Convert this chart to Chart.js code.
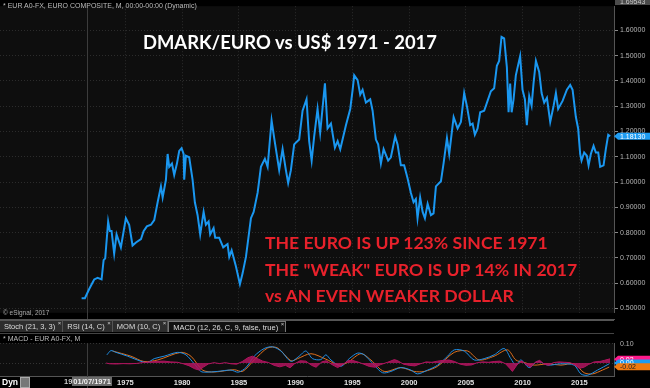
<!DOCTYPE html>
<html>
<head>
<meta charset="utf-8">
<script src="https://cdn.jsdelivr.net/npm/chart.js@4/dist/chart.umd.min.js"></script>
<style>
  body { margin:0; background:#000; width:650px; height:388px; overflow:hidden; position:relative; font-family:Arial, "Liberation Sans", sans-serif; }
  .abs { position:absolute; }
  #tabs { left:0; top:320px; width:614px; height:12px; border-top:1px solid #555; border-bottom:1px solid #444; background:#000; white-space:nowrap; }
  .tab { display:inline-block; height:11px; line-height:11px; font-size:7.5px; color:#ddd; background:#2d2d2d; padding:0 7px 0 4px; border-right:1px solid #555; position:relative; vertical-align:top; }
  .tab.on { background:#111; border:1px solid #777; border-bottom:none; height:10px; }
  .tab .x { position:absolute; right:1px; top:-3px; font-size:6px; color:#ccc; }
  .hdr { font-size:7px; color:#bbb; }
  .big { font-family:Lato, "Open Sans", sans-serif; font-weight:bold; white-space:nowrap; }
</style>
</head>
<body>
<div class="abs" style="left:0;top:0;width:650px;height:319px"><canvas id="mainChart" width="650" height="319"></canvas></div>
<div class="abs" style="left:0;top:319px;width:615px;height:1px;background:#555"></div>
<div id="tabs" class="abs"><span class="tab">Stoch (21, 3, 3)<span class="x">×</span></span><span class="tab">RSI (14, C)<span class="x">×</span></span><span class="tab">MOM (10, C)<span class="x">×</span></span><span class="tab on">MACD (12, 26, C, 9, false, true)<span class="x">×</span></span></div>
<div class="abs" style="left:0;top:333px;width:650px;height:55px"><canvas id="macdChart" width="650" height="55"></canvas></div>

<div class="abs hdr" style="left:3px;top:2px">* EUR A0-FX, EURO COMPOSITE, M, 00:00-00:00 (Dynamic)</div>
<div class="abs hdr" style="left:3px;top:309px;font-size:6.5px;color:#aaa">© eSignal, 2017</div>
<div class="abs hdr" style="left:3px;top:335px">* MACD - EUR A0-FX, M</div>
<div class="abs big" style="left:143px;top:31px;color:#fff;font-size:18.4px">DMARK/EURO vs US$ 1971 - 2017</div>
<div class="abs big" style="left:265px;top:230px;color:#e8212b;font-size:17.6px;line-height:26.5px">THE EURO IS UP 123% SINCE 1971<br>THE "WEAK" EURO IS UP 14% IN 2017<br>vs AN EVEN WEAKER DOLLAR</div>
<div class="abs" style="left:2px;top:377px;font-size:8.5px;font-weight:bold;color:#fff">Dyn</div>
<div class="abs" style="left:20px;top:377px;width:8px;height:9px;background:#777;border:1px solid #aaa"></div>
<div class="abs" style="left:64px;top:377px;font-size:7.5px;font-weight:bold;color:#ccc;line-height:10px">19<span style="background:#6a6a6a;color:#eee;padding:0 1px">01/07/1971</span></div>

<script>
// EUR/USD (DMark converted before 1999), monthly close
const dates = [1971.14,1971.43,1971.81,1972.25,1972.55,1972.90,1973.08,1973.22,1973.48,1973.63,1973.78,1974.01,1974.22,1974.60,
  1975.04,1975.33,1975.63,1975.93,1976.37,1976.60,1976.89,1977.25,1977.54,1977.84,1978.13,1978.28,1978.57,1978.72,1978.86,
  1979.10,1979.30,1979.54,1979.74,1979.95,1980.13,1980.18,1980.33,1980.62,1980.92,1981.12,1981.36,1981.59,1981.89,1982.09,
  1982.33,1982.47,1982.77,1982.91,1983.26,1983.62,1984.00,1984.15,1984.36,1984.74,1985.09,1985.33,1985.62,1986.06,1986.30,
  1986.65,1986.94,1987.29,1987.53,1987.88,1988.11,1988.55,1988.85,1989.14,1989.34,1989.58,1989.87,1990.31,1990.61,1990.96,
  1991.19,1991.41,1991.63,1991.93,1992.16,1992.58,1992.81,1993.11,1993.46,1993.70,1993.93,1994.43,1994.81,1995.02,1995.16,
  1995.46,1995.69,1995.90,1996.19,1996.57,1996.78,1997.07,1997.27,1997.51,1997.75,1998.15,1998.39,1998.77,1998.98,1999.27,
  1999.56,1999.86,2000.15,2000.39,2000.59,2000.74,2000.97,2001.19,2001.39,2001.63,2001.92,2002.15,2002.36,2002.80,2003.03,
  2003.33,2003.53,2003.92,2004.27,2004.56,2004.85,2005.09,2005.38,2005.59,2005.79,2006.03,2006.26,2006.61,2006.91,2007.20,
  2007.49,2007.73,2007.93,2008.14,2008.37,2008.61,2008.76,2008.90,2009.03,2009.20,2009.40,2009.78,2009.99,2010.20,2010.37,
  2010.58,2010.79,2010.96,2011.17,2011.46,2011.67,2011.90,2012.14,2012.43,2012.73,2012.93,2013.13,2013.52,2013.90,2014.19,
  2014.40,2014.69,2014.89,2015.07,2015.19,2015.42,2015.66,2015.81,2016.01,2016.25,2016.45,2016.66,2016.83,2017.13,2017.33,
  2017.54,2017.71];
const euroUsd = [0.541,0.541,0.577,0.615,0.621,0.615,0.691,0.698,0.844,0.806,0.806,0.717,0.793,0.742,
  0.857,0.831,0.749,0.761,0.774,0.806,0.825,0.831,0.850,0.920,0.983,0.939,1.009,1.111,1.060,
  1.073,1.028,1.073,1.123,1.134,1.111,1.009,1.104,1.098,1.009,0.920,0.869,0.793,0.882,0.831,
  0.844,0.793,0.818,0.780,0.780,0.742,0.755,0.704,0.730,0.666,0.596,0.640,0.704,0.857,0.882,
  0.958,1.060,1.092,1.060,1.244,1.174,1.047,1.130,1.047,0.996,1.047,1.149,1.168,1.282,1.327,
  1.162,1.085,1.180,1.289,1.195,1.390,1.212,1.231,1.136,1.162,1.130,1.225,1.289,1.365,1.422,
  1.403,1.346,1.365,1.314,1.327,1.282,1.168,1.149,1.073,1.130,1.085,1.098,1.181,1.149,1.066,
  1.066,1.015,0.958,0.920,0.933,0.857,0.939,0.882,0.857,0.914,0.869,0.876,0.983,1.003,1.073,
  1.174,1.111,1.257,1.212,1.238,1.352,1.300,1.225,1.231,1.187,1.212,1.276,1.282,1.321,1.359,
  1.371,1.460,1.479,1.574,1.568,1.454,1.276,1.390,1.276,1.327,1.422,1.498,1.365,1.327,1.225,
  1.340,1.302,1.390,1.479,1.435,1.352,1.314,1.333,1.238,1.302,1.352,1.289,1.321,1.365,1.384,
  1.365,1.257,1.212,1.111,1.085,1.117,1.104,1.066,1.111,1.143,1.117,1.117,1.060,1.066,1.130,
  1.187,1.181];
const lastPrice = 1.18130;
const topPrice = 1.69543;
const priceTicks = [0.5,0.6,0.7,0.8,0.9,1.0,1.1,1.2,1.3,1.4,1.5,1.6];
const yearTicks = [1975,1980,1985,1990,1995,2000,2005,2010,2015];
const cursorYear = 1971.6;

// MACD panel
const macdDates = [1973.37,1973.72,1974.16,1975.19,1976.37,1976.96,1977.54,1978.42,1979.60,1980.33,1981.06,1981.65,1982.09,
  1983.12,1984.30,1984.94,1985.62,1986.35,1987.23,1987.97,1988.70,1989.58,1990.31,1990.90,1991.49,1992.22,1992.66,1993.11,
  1993.99,1994.72,1995.46,1996.04,1996.92,1997.66,1998.39,1999.27,2000.15,2000.74,2001.63,2002.51,2003.39,2003.97,2004.85,
  2005.73,2006.61,2007.49,2008.37,2008.96,2009.40,2009.85,2010.58,2011.32,2012.20,2013.37,2014.54,2015.13,2015.72,2016.60,2017.63];
const macdLine = [0.043,0.065,0.056,0.036,0.009,0.003,0.023,0.036,0.056,0.043,-0.004,-0.044,-0.048,
  -0.044,-0.037,-0.048,-0.024,0.036,0.076,0.085,0.063,0.009,0.036,0.063,0.023,0.018,0.043,0.016,
  -0.017,0.023,0.052,0.043,-0.011,-0.051,-0.044,-0.024,-0.037,-0.057,-0.037,-0.011,0.036,0.069,0.063,
  0.016,0.023,0.043,0.076,0.023,-0.011,0.016,-0.024,0.009,-0.011,-0.004,-0.011,-0.057,-0.064,-0.037,-0.004];
const signalDates = [1973.87,1975.48,1976.63,1977.84,1979.89,1980.77,1981.80,1982.82,1984.59,1985.33,1986.35,1987.53,1988.41,
  1989.58,1990.17,1991.34,1992.60,1993.84,1994.58,1995.75,1996.63,1997.80,1999.27,2000.44,2001.33,2002.51,2003.97,2005.15,
  2006.17,2007.49,2008.67,2009.40,2010.14,2011.02,2012.20,2013.37,2014.54,2015.42,2016.16,2017.04,2017.63];
const signalLine = [0.063,0.036,0.008,0.016,0.056,0.036,-0.037,-0.047,-0.035,-0.044,0.016,0.079,0.079,
  0.012,0.023,0.049,0.022,-0.011,0.003,0.049,0.016,-0.044,-0.024,-0.044,-0.044,-0.017,0.056,0.063,
  0.016,0.036,0.069,0.016,0.003,-0.011,-0.004,-0.011,-0.004,-0.051,-0.057,-0.037,-0.021];
const histDates = [1973.3,1973.6,1974.2,1974.8,1975.4,1976.0,1976.6,1977.2,1977.8,1978.4,1979.0,1979.6,1980.1,1980.6,1981.1,
  1981.5,1981.9,1982.3,1982.8,1983.3,1983.8,1984.3,1984.8,1985.3,1985.8,1986.2,1986.6,1987.1,1987.6,1988.1,1988.6,1989.1,
  1989.5,1989.9,1990.4,1990.9,1991.4,1991.8,1992.3,1992.7,1993.2,1993.7,1994.1,1994.6,1995.0,1995.5,1996.0,1996.5,1997.0,
  1997.5,1998.1,1998.7,1999.0,1999.5,2000.0,2000.5,2001.0,2001.5,2002.0,2002.5,2003.0,2003.5,2004.0,2004.5,2005.0,2005.5,
  2006.0,2006.5,2007.0,2007.5,2008.0,2008.5,2008.9,2009.1,2009.5,2009.9,2010.3,2010.7,2011.1,2011.5,2011.9,2012.3,2012.7,
  2013.2,2013.7,2014.2,2014.6,2015.0,2015.4,2015.8,2016.3,2016.8,2017.2,2017.7];
const histValues = [0,-0.004,-0.005,-0.003,-0.004,-0.002,0.003,0.006,0.009,0.010,0.006,0.004,-0.004,-0.014,-0.030,
  -0.037,-0.020,-0.005,0.002,-0.003,0.002,-0.004,-0.006,0.008,0.028,0.036,0.024,0.010,0.003,-0.012,-0.020,-0.012,
  -0.025,-0.004,0.012,0.010,-0.012,-0.022,0.006,0.012,-0.008,-0.024,-0.010,0.012,0.014,0.005,-0.006,-0.018,-0.022,
  -0.008,0.004,0.018,0.012,-0.006,-0.012,-0.015,-0.004,0.006,0.004,0.010,0.014,0.016,0.008,-0.006,-0.012,-0.010,
  0.002,0.006,0.004,0.008,0.010,-0.004,-0.030,-0.044,-0.010,0.012,-0.008,-0.022,0.004,0.014,-0.006,-0.012,0.002,
  0.006,0.004,0.002,-0.010,-0.028,-0.022,-0.008,0.006,0.008,0.014,0.022];
const macdTags = [0.02, 0.00, -0.02];
const macdTagColors = ['#ff1a8c', '#1e9cf2', '#f07a10'];

Chart.defaults.font.family = 'Arial, "Liberation Sans", sans-serif';
Chart.defaults.color = '#b5b5b5';

function pts(xs, ys) { return xs.map((x, i) => ({x: x, y: ys[i]})); }

const plotBg = {
  id: 'plotBg',
  beforeDraw(chart) {
    const a = chart.chartArea, ctx = chart.ctx;
    ctx.save();
    ctx.fillStyle = '#0e0e0e';
    ctx.fillRect(a.left, a.top, a.right - a.left, a.bottom - a.top);
    ctx.restore();
  },
  beforeDatasetsDraw(chart) {
    const a = chart.chartArea, ctx = chart.ctx;
    const x = chart.scales.x.getPixelForValue(cursorYear);
    ctx.save();
    ctx.strokeStyle = '#3c3c3c';
    ctx.lineWidth = 1;
    ctx.beginPath();
    ctx.moveTo(Math.round(x) + 0.5, a.top);
    ctx.lineTo(Math.round(x) + 0.5, chart.height);
    ctx.stroke();
    ctx.restore();
  }
};

function tag(ctx, y, text, bg, fg) {
  ctx.fillStyle = bg;
  ctx.beginPath();
  ctx.moveTo(614, y);
  ctx.lineTo(618, y - 3.5);
  ctx.lineTo(650, y - 3.5);
  ctx.lineTo(650, y + 3.5);
  ctx.lineTo(618, y + 3.5);
  ctx.closePath();
  ctx.fill();
  ctx.fillStyle = fg;
  ctx.font = '7px Arial, "Liberation Sans", sans-serif';
  ctx.textBaseline = 'middle';
  ctx.fillText(text, 620, y + 0.5);
}

const priceTags = {
  id: 'priceTags',
  afterDraw(chart) {
    const ctx = chart.ctx, ys = chart.scales.y;
    ctx.save();
    ctx.fillStyle = '#4b4b4b';
    ctx.fillRect(615, -2, 35, 7);
    ctx.fillStyle = '#ccc';
    ctx.font = '7px Arial, "Liberation Sans", sans-serif';
    ctx.textBaseline = 'middle';
    ctx.fillText(topPrice.toFixed(5), 620, 2);
    tag(ctx, ys.getPixelForValue(lastPrice), lastPrice.toFixed(5), '#1e9cf2', '#fff');
    ctx.restore();
  }
};

const macdTagPlugin = {
  id: 'macdTagPlugin',
  afterDraw(chart) {
    const ctx = chart.ctx, ys = chart.scales.y;
    ctx.save();
    macdTags.forEach((v, i) => {
      tag(ctx, ys.getPixelForValue(v), v.toFixed(2), macdTagColors[i], i == 2 ? '#222' : '#fff');
    });
    ctx.restore();
  }
};

new Chart(document.getElementById('mainChart'), {
  type: 'line',
  data: {
    datasets: [{
      label: 'EUR A0-FX',
      data: pts(dates, euroUsd),
      borderColor: '#1a97f0',
      borderWidth: 2,
      pointRadius: 0,
      tension: 0
    }]
  },
  options: {
    responsive: false,
    animation: false,
    devicePixelRatio: 1,
    layout: { padding: 0 },
    plugins: { legend: { display: false }, tooltip: { enabled: false } },
    scales: {
      x: {
        type: 'linear', min: 1963.95, max: 2018.05,
        afterBuildTicks: s => { s.ticks = yearTicks.map(v => ({value: v})); },
        afterFit: s => { s.height = 0; },
        ticks: { display: false },
        grid: { color: '#2c2c2c', drawTicks: false },
        border: { display: false, dash: [1, 2] }
      },
      y: {
        position: 'right', min: 0.483, max: 1.6954,
        afterBuildTicks: s => { s.ticks = priceTicks.map(v => ({value: v})); },
        afterFit: s => { s.width = 36; },
        ticks: { callback: v => v.toFixed(5), font: { size: 7 }, color: '#b5b5b5', padding: 2 },
        grid: { color: '#2c2c2c', tickColor: '#888', tickLength: 4, tickBorderDash: [] },
        border: { display: true, color: '#555', dash: [1, 2] }
      }
    }
  },
  plugins: [plotBg, priceTags]
});

new Chart(document.getElementById('macdChart'), {
  type: 'line',
  data: {
    datasets: [
      { label: 'Hist', data: pts(histDates, histValues), borderColor: '#b0145e', backgroundColor: 'rgba(176,20,94,0.85)', borderWidth: 1, pointRadius: 0, fill: 'origin', tension: 0 },
      { label: 'MACD', data: pts(macdDates, macdLine), borderColor: '#1f8fe6', borderWidth: 1, pointRadius: 0, tension: 0.3 },
      { label: 'Signal', data: pts(signalDates, signalLine), borderColor: '#e0701c', borderWidth: 1, pointRadius: 0, tension: 0.3 }
    ]
  },
  options: {
    responsive: false,
    animation: false,
    devicePixelRatio: 1,
    layout: { padding: 0 },
    plugins: { legend: { display: false }, tooltip: { enabled: false } },
    scales: {
      x: {
        type: 'linear', min: 1963.95, max: 2018.05,
        afterBuildTicks: s => { s.ticks = yearTicks.map(v => ({value: v})); },
        afterFit: s => { s.height = 12; },
        ticks: { callback: v => String(v), font: { size: 7.5, weight: 'bold' }, color: '#e0e0e0', padding: 2, maxRotation: 0, autoSkip: false },
        grid: { drawOnChartArea: false, drawTicks: false },
        border: { display: true, color: '#555' }
      },
      y: {
        position: 'right', min: -0.068, max: 0.104,
        afterBuildTicks: s => { s.ticks = [{value: 0}, {value: 0.1}]; },
        afterFit: s => { s.width = 36; },
        ticks: { callback: v => v == 0.1 ? '0.10' : '', font: { size: 7 }, color: '#b5b5b5', padding: 6 },
        grid: { color: '#333', drawTicks: false },
        border: { display: true, color: '#555', dash: [1, 2] }
      }
    }
  },
  plugins: [plotBg, macdTagPlugin]
});
</script>
</body>
</html>
